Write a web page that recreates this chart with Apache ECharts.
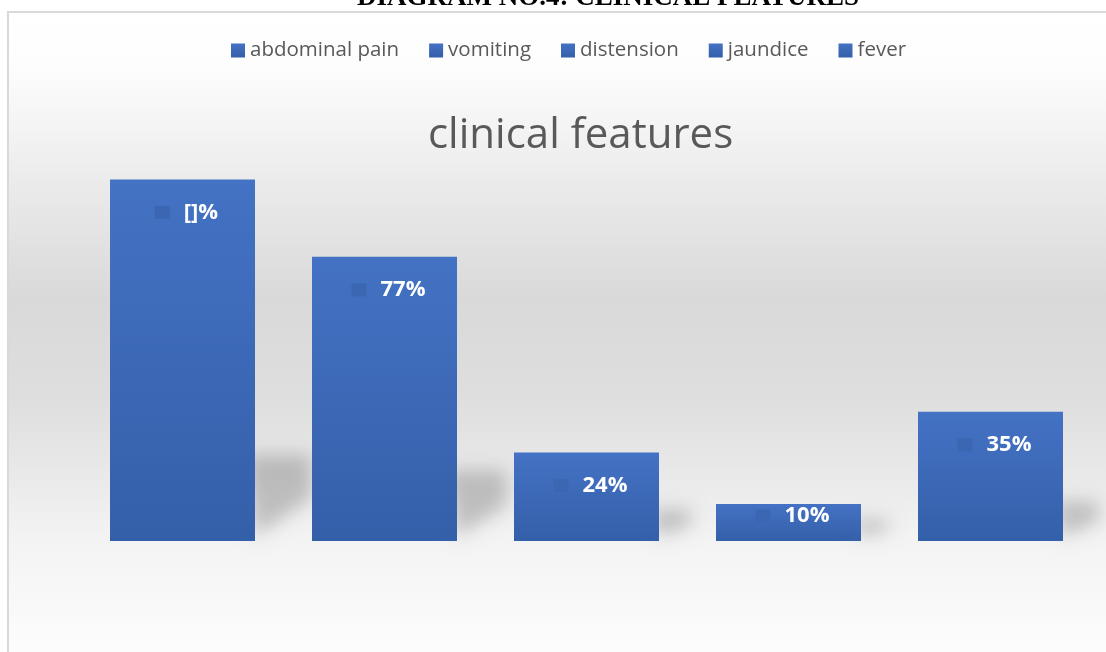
<!DOCTYPE html>
<html><head><meta charset="utf-8">
<script src="https://cdn.jsdelivr.net/npm/echarts@6/dist/echarts.min.js"></script>
<style>html,body{margin:0;padding:0;background:#fff}#c{width:1106px;height:652px}</style>
</head><body><div id="c"></div>
<script>
const categories = ['abdominal pain', 'vomiting', 'distension', 'jaundice', 'fever'];
const values = [98, 77, 24, 10, 35];
const valueLabels = ['[]%', '77%', '24%', '10%', '35%'];
const chartTitle = 'clinical features';
const caption = 'DIAGRAM NO.4: CLINICAL FEATURES';

const chart = echarts.init(document.getElementById('c'), null, {renderer: 'canvas'});
const BAR_W = 145;
const barFill = new echarts.graphic.LinearGradient(0, 0, 0, 1, [
  {offset: 0, color: '#4472c4'}, {offset: 1, color: '#345fa9'}
]);

const barSeries = categories.map((name, i) => ({
  name, type: 'bar', barWidth: BAR_W, barGap: '-100%', z: 3,
  data: categories.map((_, j) => j === i
    ? {value: values[j], label: values[j] < 15 ? {distance: 0} : {}}
    : '-'),
  itemStyle: {color: barFill},
  label: {
    show: true, position: 'insideTop', distance: 21, offset: [4, 0],
    formatter: () => `{m|}{t|${valueLabels[i]}}`,
    rich: {
      m: {width: 15, height: 13, backgroundColor: '#3b67b2', verticalAlign: 'middle'},
      t: {fontFamily: 'Open Sans', fontWeight: 'bold', fontSize: 22, color: '#ffffff',
          padding: [0, 0, 0, 14], lineHeight: 24, verticalAlign: 'middle'}
    }
  }
}));

const OFF = 3000;
const shadowSeries = {
  type: 'custom', name: 'shadow', z: 1, silent: true, clip: false,
  data: values.map((v, i) => [i, v]),
  renderItem(params, api) {
    const top = api.coord([api.value(0), api.value(1)]);
    const base = api.coord([api.value(0), 0]);
    const h = base[1] - top[1];
    const right = base[0] + BAR_W / 2;
    const dx = 24 + 0.09 * h, dy = 14 + 0.2 * h;
    return {
      type: 'polygon',
      shape: {points: [
        [right - 10 - OFF, base[1] - dy], [right + dx - OFF, base[1] - dy],
        [right + dx - OFF, base[1] - 0.5 * dy], [right - OFF, base[1] - 4]
      ]},
      style: {fill: '#000', shadowColor: 'rgba(0,0,0,0.2)', shadowBlur: 18, shadowOffsetX: OFF}
    };
  }
};

chart.setOption({
  animation: false,
  backgroundColor: '#ffffff',
  graphic: [{
    type: 'rect', z: -10, silent: true,
    shape: {x: 8, y: 12, width: 1200, height: 700},
    style: {
      stroke: '#d9d9d9', lineWidth: 2,
      fill: new echarts.graphic.LinearGradient(0, 0, 0, 1, [
        {offset: 0, color: '#ffffff'},
        {offset: 0.08, color: '#fdfdfd'},
        {offset: 0.41, color: '#d9d9d9'},
        {offset: 0.55, color: '#dedede'},
        {offset: 0.64, color: '#e7e7e7'},
        {offset: 0.75, color: '#f3f3f3'},
        {offset: 0.9, color: '#fcfcfc'},
        {offset: 1, color: '#ffffff'}
      ])
    }
  }],
  title: [
    {text: caption, left: 357, top: -15, padding: 0,
     textStyle: {fontFamily: 'Liberation Serif', fontWeight: 'bold', fontSize: 27, color: '#000000'}},
    {text: chartTitle, left: 428, top: 115, padding: 0,
     textStyle: {fontFamily: 'Open Sans', fontWeight: 'normal', fontSize: 42, color: '#595959'}}
  ],
  legend: {
    data: categories, left: 231, top: 40, padding: 0, itemWidth: 14, itemHeight: 14, itemGap: 30,
    icon: 'rect',
    textStyle: {fontFamily: 'Open Sans', fontSize: 20.5, color: '#595959'}
  },
  grid: {left: 81.5, right: 14.5, top: 172, bottom: 111},
  xAxis: {type: 'category', data: categories, show: false},
  yAxis: {type: 'value', min: 0, max: 100, show: false},
  series: [shadowSeries, ...barSeries]
});
</script></body></html>
